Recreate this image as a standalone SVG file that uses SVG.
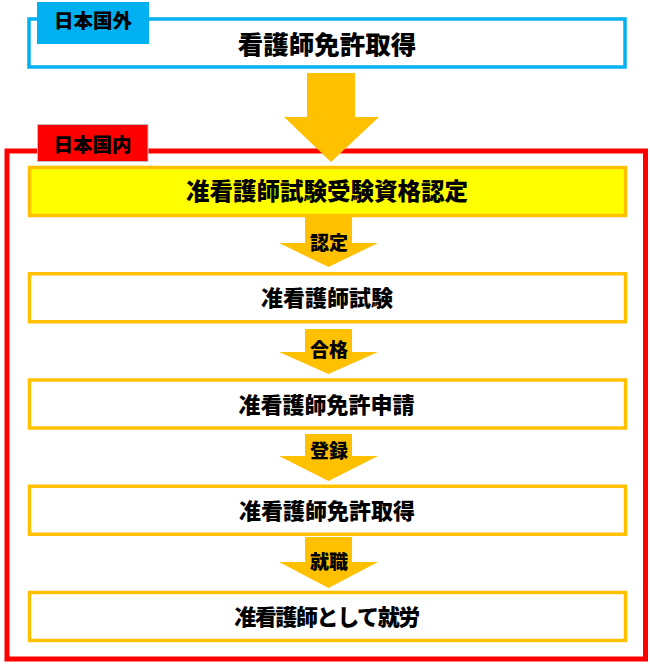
<svg xmlns="http://www.w3.org/2000/svg" width="650" height="667" viewBox="0 0 650 667">
<style>
text{font-family:"Noto Sans CJK JP","Noto Sans CJK SC",sans-serif;font-weight:900;fill:#000;text-anchor:middle}
.step{fill:#fff;stroke:#FFC000;stroke-width:3.5}
.arr{fill:#FFC000}
.t22{font-size:22px}
.lbl{font-size:19px}
.tag{font-size:19.5px}
</style>
<rect width="650" height="667" fill="#fff"/>
<g id="overseas">
<rect x="29" y="19" width="596" height="48" fill="#fff" stroke="#00B0F0" stroke-width="3.5"/>
<text x="327" y="54" style="font-size:25.5px">看護師免許取得</text>
</g>
<g id="overseas-tag">
<rect x="37" y="2" width="112" height="42" fill="#00B0F0"/>
<text class="tag" x="93" y="28.3">日本国外</text>
</g>
<g id="domestic">
<rect x="7" y="151" width="638.5" height="508" fill="none" stroke="#FF0000" stroke-width="5"/>
</g>
<g id="domestic-tag">
<rect x="37.5" y="124.5" width="110.5" height="37" fill="#FF0000" stroke="#BFBFBF" stroke-width="1"/>
<text class="tag" x="92.5" y="151.8">日本国内</text>
</g>
<g id="step1">
<rect x="29.5" y="167.5" width="596" height="48" fill="#FFFF00" stroke="#FFC000" stroke-width="3.5"/>
<text x="327" y="200.4" style="font-size:23.5px">准看護師試験受験資格認定</text>
</g>
<g id="step2">
<rect class="step" x="29.5" y="273.75" width="596" height="48"/>
<text class="t22" x="327" y="305.7">准看護師試験</text>
</g>
<g id="step3">
<rect class="step" x="29.5" y="380" width="596" height="48"/>
<text class="t22" x="326.5" y="412.7">准看護師免許申請</text>
</g>
<g id="step4">
<rect class="step" x="29.5" y="486.25" width="596" height="48"/>
<text class="t22" x="327" y="518.7">准看護師免許取得</text>
</g>
<g id="step5">
<rect class="step" x="29.5" y="592.5" width="596" height="48"/>
<text class="t22" x="326.5" y="624.7" style="letter-spacing:-1.4px">准看護師として就労</text>
</g>
<g id="connectors">
<polygon class="arr" points="307,73 355,73 355,117 379,117 331,162 284,117 307,117"/>
<polygon class="arr" points="305,216 352,216 352,243 378,243 328.5,267 279,243 305,243"/>
<text class="lbl" x="329" y="249.7">認定</text>
<polygon class="arr" points="305,329 352,329 352,352 378,352 328.5,374 279,352 305,352"/>
<text class="lbl" x="329" y="356.7">合格</text>
<polygon class="arr" points="305,434 352,434 352,456 378,456 328.5,481 279,456 305,456"/>
<text class="lbl" x="329" y="457.7">登録</text>
<polygon class="arr" points="305,537 352,537 352,562 378,562 328.5,588 279,562 305,562"/>
<text class="lbl" x="329" y="568.7">就職</text>
</g>
</svg>
